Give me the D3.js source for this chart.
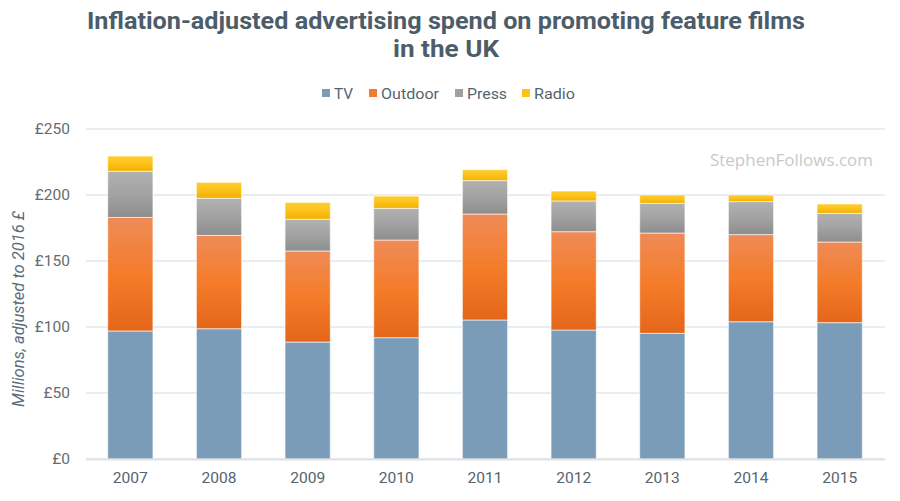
<!DOCTYPE html>
<html><head><meta charset="utf-8">
<script src="https://cdn.jsdelivr.net/npm/d3@7"></script>
<style>body{margin:0;background:#fff}svg{display:block}</style>
</head><body>
<svg id="chart" width="900" height="501"></svg>
<script>
const years = ["2007","2008","2009","2010","2011","2012","2013","2014","2015"];
const seriesNames = ["TV","Outdoor","Press","Radio"];
const tv      = [97, 98.7, 88.6, 91.9, 105.3, 97.7, 95.2, 104, 103.3];
const outdoor = [86, 70.7, 69, 74, 80.3, 74.5, 76, 66, 61.1];
const press   = [35, 28.1, 24, 24, 25.3, 23.3, 22.5, 25, 21.7];
const radio   = [11.5, 12.1, 12.8, 9.3, 8.3, 7.5, 6.3, 5, 7.1];
const yTicks = [0,50,100,150,200,250];

const svg = d3.select("#chart");
const W=900,H=501;
const m = {l:86, r:16, t:129, b:42};
const x = d3.scaleBand().domain(years).range([m.l, W-m.r]).paddingInner(0.49).paddingOuter(0.245);
const y = d3.scaleLinear().domain([0,250]).range([459,129]);

const rows = years.map((yr,i)=>({year:yr, TV:tv[i], Outdoor:outdoor[i], Press:press[i], Radio:radio[i]}));
const stack = d3.stack().keys(seriesNames)(rows);

const defs = svg.append("defs");
const grads = {
  TV:["#7a9cb8","#7a9cb8","#7a9cb8"],
  Outdoor:["#ef8b57","#f47c2a","#e4661a"],
  Press:["#b1b1b1","#a2a2a2","#8d8d8d"],
  Radio:["#ffcd2e","#fcc21a","#f0b000"]
};
const legendCol = {TV:"#7a9cb8",Outdoor:"#f07a30",Press:"#a0a0a0",Radio:"#fcc419"};
seriesNames.forEach(k=>{
  const g = defs.append("linearGradient").attr("id","g"+k).attr("x1",0).attr("x2",0).attr("y1",0).attr("y2",1);
  g.append("stop").attr("offset","0%").attr("stop-color",grads[k][0]);
  g.append("stop").attr("offset","50%").attr("stop-color",grads[k][1]);
  g.append("stop").attr("offset","100%").attr("stop-color",grads[k][2]);
});

// gridlines
svg.append("g").selectAll("line").data(yTicks).join("line")
  .attr("x1",m.l).attr("x2",W-m.r+1)
  .attr("y1",d=>y(d)).attr("y2",d=>y(d))
  .attr("stroke","#e2e6eb").attr("stroke-width",1.5);

// y axis labels
const yAxis = d3.axisLeft(y).tickValues(yTicks).tickFormat(d=>"£"+d).tickSize(0).tickPadding(16);
const ya = svg.append("g").attr("transform",`translate(${m.l},0)`).call(yAxis);
ya.select(".domain").remove();
ya.selectAll("text").attr("font-family","Roboto, sans-serif").attr("font-size",15.5).attr("fill","#656b72");

// bars
svg.append("g").selectAll("g").data(stack).join("g")
  .attr("fill",d=>`url(#g${d.key})`)
  .selectAll("rect").data(d=>d).join("rect")
  .attr("x",d=>x(d.data.year)).attr("width",x.bandwidth())
  .attr("y",d=>y(d[1])).attr("height",d=>y(d[0])-y(d[1]))
  .attr("stroke","rgba(255,255,255,0.6)").attr("stroke-width",1);

// baseline
svg.append("line").attr("x1",m.l).attr("x2",W-m.r+1).attr("y1",459.5).attr("y2",459.5).attr("stroke","#dfe3e8").attr("stroke-width",2);

// x axis
const xAxis = d3.axisBottom(x).tickSize(0).tickPadding(13);
const xa = svg.append("g").attr("transform","translate(0,459)").call(xAxis);
xa.select(".domain").remove();
xa.selectAll("text").attr("font-family","Roboto, sans-serif").attr("font-size",15).attr("fill","#56646f")
  .attr("textLength",35).attr("lengthAdjust","spacingAndGlyphs");

// y title
svg.append("text").attr("transform","translate(24,309) rotate(-90)").attr("text-anchor","middle")
  .attr("font-family","Roboto, sans-serif").attr("font-style","italic").attr("font-size",16).attr("fill","#5b6b78")
  .attr("textLength",196).attr("lengthAdjust","spacingAndGlyphs")
  .text("Millions, adjusted to 2016 £");

// title
const title = svg.append("g").attr("font-family","Roboto, sans-serif").attr("font-weight","bold").attr("font-size",24).attr("fill","#4c5d6a").attr("text-anchor","middle");
title.append("text").attr("x",446).attr("y",29).attr("textLength",718).attr("lengthAdjust","spacingAndGlyphs").text("Inflation-adjusted advertising spend on promoting feature films");
title.append("text").attr("x",446).attr("y",57).attr("textLength",106).attr("lengthAdjust","spacingAndGlyphs").text("in the UK");

// legend
const legendX = {TV:322, Outdoor:369, Press:455, Radio:522};
const legendW = {TV:19, Outdoor:58, Press:40, Radio:41};
const lg = svg.append("g").selectAll("g").data(seriesNames).join("g").attr("transform",d=>`translate(${legendX[d]},0)`);
lg.append("rect").attr("x",0).attr("y",89).attr("width",8).attr("height",8).attr("fill",d=>legendCol[d]);
lg.append("text").attr("x",12).attr("y",98.5).attr("font-family","Roboto, sans-serif").attr("font-size",15).attr("fill","#56646f")
  .attr("textLength",d=>legendW[d]).attr("lengthAdjust","spacingAndGlyphs").text(d=>d);

// watermark
svg.append("text").attr("x",710).attr("y",166).attr("font-family","'Open Sans', sans-serif").attr("font-size",16.5).attr("fill","#c9c9c9")
  .attr("textLength",163).attr("lengthAdjust","spacingAndGlyphs").text("StephenFollows.com");
</script>
</body></html>
